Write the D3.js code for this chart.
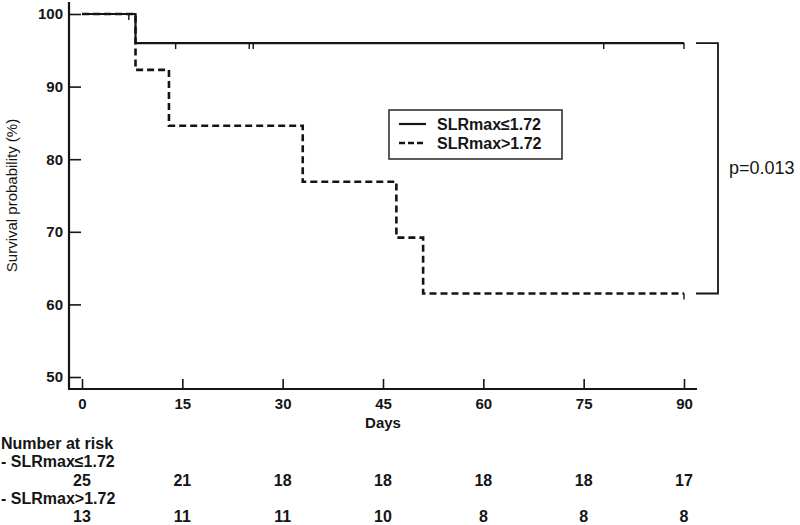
<!DOCTYPE html>
<html>
<head>
<meta charset="utf-8">
<script src="https://cdn.jsdelivr.net/npm/d3@7"></script>
<style>
  body { margin: 0; background: #fff; }
  svg { display: block; font-family: "Liberation Sans", Arial, sans-serif; }
</style>
</head>
<body>
<svg id="chart" width="800" height="525"></svg>
<script>
// ---- data ----
const dayTicks = [0, 15, 30, 45, 60, 75, 90];
const survTicks = [50, 60, 70, 80, 90, 100];
const groupNames = ["SLRmax\u22641.72", "SLRmax>1.72"];
const lowTimes = [0, 8, 90];
const lowSurv = [100, 96, 96];
const highTimes = [0, 8, 13, 33, 47, 51, 90];
const highSurv = [100, 92.3, 84.6, 76.9, 69.2, 61.5, 61.5];
const lowCensor = [7, 14, 25, 25.6, 78, 90];
const highCensor = [90];
const atRiskLow = [25, 21, 18, 18, 18, 18, 17];
const atRiskHigh = [13, 11, 11, 10, 8, 8, 8];
const pText = "p=0.013";

// ---- layout ----
const svg = d3.select("#chart");
const x = d3.scaleLinear().domain([0, 90]).range([82, 684]);
const y = d3.scaleLinear().domain([50, 100]).range([377, 14]);
const axisX0 = 69, axisY0 = 389;
const ink = "#151515";

// axes lines
svg.append("line").attr("x1", axisX0).attr("x2", axisX0).attr("y1", 2).attr("y2", axisY0)
  .attr("stroke", ink).attr("stroke-width", 2.2);
svg.append("line").attr("x1", axisX0 - 1).attr("x2", 697).attr("y1", axisY0).attr("y2", axisY0)
  .attr("stroke", ink).attr("stroke-width", 2.2);

const yAxis = svg.append("g").attr("transform", `translate(${axisX0},0)`)
  .call(d3.axisLeft(y).tickValues(survTicks).tickSizeInner(-12).tickSizeOuter(0).tickPadding(6));
yAxis.select(".domain").remove();
yAxis.selectAll(".tick line").attr("stroke", ink).attr("stroke-width", 1.6);
yAxis.selectAll("text").attr("font-size", 15).attr("font-weight", "bold").attr("fill", ink)
  .attr("font-family", "Liberation Sans, Arial, sans-serif");

const xAxis = svg.append("g").attr("transform", `translate(0,${axisY0})`)
  .call(d3.axisBottom(x).tickValues(dayTicks).tickSizeInner(-10).tickSizeOuter(0).tickPadding(9));
xAxis.select(".domain").remove();
xAxis.selectAll(".tick line").attr("stroke", ink).attr("stroke-width", 1.6);
xAxis.selectAll("text").attr("font-size", 15).attr("font-weight", "bold").attr("fill", ink)
  .attr("font-family", "Liberation Sans, Arial, sans-serif");

// axis titles
svg.append("text").attr("x", x(45)).attr("y", 428).attr("text-anchor", "middle")
  .attr("font-size", 15).attr("font-weight", "bold").attr("fill", ink).text("Days");
svg.append("text").attr("transform", `translate(17,${y(75)}) rotate(-90)`)
  .attr("text-anchor", "middle").attr("font-size", 15).attr("fill", ink)
  .text("Survival probability (%)");

// curves
const line = d3.line().x(d => x(d[0])).y(d => y(d[1])).curve(d3.curveStepAfter);
const lowPts = lowTimes.map((t, i) => [t, lowSurv[i]]);
const highPts = highTimes.map((t, i) => [t, highSurv[i]]);

svg.append("path").datum(highPts).attr("d", line).attr("fill", "none")
  .attr("stroke", ink).attr("stroke-width", 2.6).attr("stroke-dasharray", "7,4");
svg.append("path").datum(lowPts).attr("d", line).attr("fill", "none")
  .attr("stroke", ink).attr("stroke-width", 2.2);

function survAt(times, surv, t) {
  let s = surv[0];
  for (let i = 0; i < times.length; i++) if (times[i] <= t) s = surv[i];
  return s;
}
svg.selectAll(".cl").data(lowCensor).enter().append("line")
  .attr("x1", d => x(d)).attr("x2", d => x(d))
  .attr("y1", d => y(survAt(lowTimes, lowSurv, d))).attr("y2", d => y(survAt(lowTimes, lowSurv, d)) + 6)
  .attr("stroke", ink).attr("stroke-width", 1.4);
svg.selectAll(".ch").data(highCensor).enter().append("line")
  .attr("x1", d => x(d)).attr("x2", d => x(d))
  .attr("y1", d => y(survAt(highTimes, highSurv, d))).attr("y2", d => y(survAt(highTimes, highSurv, d)) + 6)
  .attr("stroke", ink).attr("stroke-width", 1.4);

// bracket with p value
const yTop = y(lowSurv[lowSurv.length - 1]);
const yBot = y(highSurv[highSurv.length - 1]);
svg.append("path")
  .attr("d", `M696,${yTop} H718 V${yBot} H696`)
  .attr("fill", "none").attr("stroke", ink).attr("stroke-width", 1.8);
svg.append("text").attr("x", 729).attr("y", (yTop + yBot) / 2 + 6)
  .attr("font-size", 18).attr("fill", ink).text(pText);

// legend
const lg = svg.append("g");
lg.append("rect").attr("x", 389).attr("y", 110).attr("width", 173).attr("height", 49)
  .attr("fill", "#fff").attr("stroke", "#333").attr("stroke-width", 1.6);
groupNames.forEach((name, i) => {
  const ly = 124 + i * 19;
  lg.append("line").attr("x1", 399).attr("x2", 426).attr("y1", ly).attr("y2", ly)
    .attr("stroke", ink).attr("stroke-width", i === 0 ? 2.2 : 2.4)
    .attr("stroke-dasharray", i === 0 ? null : "6,3");
  lg.append("text").attr("x", 437).attr("y", ly + 5.5).attr("font-size", 16)
    .attr("font-weight", "bold").attr("fill", ink).text(name);
});

// number at risk
const risk = svg.append("g").attr("font-weight", "bold").attr("font-size", 16).attr("fill", ink);
risk.append("text").attr("x", 1).attr("y", 449).text("Number at risk");
risk.append("text").attr("x", 1).attr("y", 467).text("- " + groupNames[0]);
risk.selectAll(".rl").data(atRiskLow).enter().append("text")
  .attr("x", (d, i) => x(dayTicks[i])).attr("y", 486).attr("text-anchor", "middle").text(d => d);
risk.append("text").attr("x", 1).attr("y", 504).text("- " + groupNames[1]);
risk.selectAll(".rh").data(atRiskHigh).enter().append("text")
  .attr("x", (d, i) => x(dayTicks[i])).attr("y", 522).attr("text-anchor", "middle").text(d => d);
</script>
</body>
</html>
